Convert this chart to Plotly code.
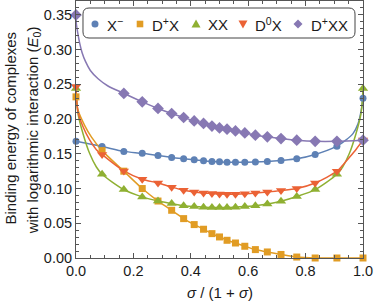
import plotly.graph_objects as go

# ---------------- data ----------------
sigma_ratio = [0.0, 0.0909, 0.1667, 0.2308, 0.2857, 0.3333, 0.375, 0.4118, 0.4444, 0.4737, 0.5,
               0.5263, 0.5556, 0.5882, 0.625, 0.6667, 0.7143, 0.7692, 0.8333, 0.9091, 1.0]

x_minus = [0.168, 0.1605, 0.1535, 0.1507, 0.1475, 0.1448, 0.143, 0.1415, 0.140, 0.139, 0.1385,
           0.138, 0.138, 0.138, 0.1382, 0.139, 0.1405, 0.1428, 0.149, 0.161, 0.230]
d_plus_x = [0.232, 0.1546, 0.125, 0.100, 0.082, 0.0687, 0.0567, 0.0481, 0.0414, 0.0351, 0.0303,
            0.0255, 0.0216, 0.0169, 0.0121, 0.0087, 0.0051, 0.0014, 0.0, 0.0, 0.0]
xx = [0.244, 0.1206, 0.0985, 0.088, 0.082, 0.0783, 0.0752, 0.074, 0.0732, 0.0728, 0.0726,
      0.0728, 0.0732, 0.074, 0.0752, 0.0778, 0.0817, 0.0885, 0.0985, 0.1206, 0.244]
d0_x = [0.247, 0.149, 0.1254, 0.1134, 0.108, 0.102, 0.0975, 0.0951, 0.0937, 0.0928, 0.092,
        0.0918, 0.0918, 0.0925, 0.0935, 0.095, 0.097, 0.100, 0.108, 0.125, 0.170]
sigma_ratio_dpxx = [0.0, 0.1667, 0.2308, 0.2857, 0.3333, 0.375, 0.4118, 0.4444, 0.4737, 0.5,
                    0.5263, 0.5556, 0.5882, 0.625, 0.6667, 0.7143, 0.7692, 0.8333, 0.9091, 1.0]
d_plus_xx = [0.35, 0.237, 0.2248, 0.2153, 0.208, 0.2023, 0.1974, 0.1937, 0.190, 0.1873,
             0.1855, 0.183, 0.180, 0.1768, 0.1744, 0.172, 0.1696, 0.168, 0.168, 0.1696]

# extra points of the fitted curves near the edges
x_minus_edge_x = [0.94, 0.965, 0.983, 0.994]
x_minus_edge_y = [0.1696, 0.179, 0.1937, 0.2128]
d_plus_x_edge_x = [0.007, 0.030, 0.054]
d_plus_x_edge_y = [0.213, 0.191, 0.174]
xx_left_x = [0.007, 0.0245, 0.048, 0.071]
xx_left_y = [0.208, 0.179, 0.150, 0.131]
xx_right_x = [0.929, 0.952, 0.9755, 0.993]
xx_right_y = [0.131, 0.150, 0.179, 0.208]
d0_left_x = [0.007, 0.0245, 0.048, 0.071]
d0_left_y = [0.210, 0.189, 0.1696, 0.156]
d0_right_x = [0.930, 0.953, 0.977]
d0_right_y = [0.134, 0.145, 0.157]
dpxx_left_x = [0.001, 0.007, 0.013, 0.021, 0.033, 0.05, 0.077, 0.11]
dpxx_left_y = [0.338, 0.322, 0.309, 0.296, 0.283, 0.270, 0.258, 0.248]

x_ticks = [0.0, 0.2, 0.4, 0.6, 0.8, 1.0]
x_tick_labels = ["0.0", "0.2", "0.4", "0.6", "0.8", "1.0"]
y_ticks = [0.0, 0.05, 0.10, 0.15, 0.20, 0.25, 0.30, 0.35]
y_tick_labels = ["0.00", "0.05", "0.10", "0.15", "0.20", "0.25", "0.30", "0.35"]

names = ["X<sup>−</sup>", "D<sup>+</sup>X", "XX", "D<sup>0</sup>X", "D<sup>+</sup>XX"]
colors = ["#5E81B5", "#E19C24", "#8FB032", "#EB6235", "#8778B3"]


def merged(px_, py_, ex, ey):
    pts = sorted(list(zip(px_, py_)) + list(zip(ex, ey)))
    return [p[0] for p in pts], [p[1] for p in pts]


curves = [
    merged(sigma_ratio, x_minus, x_minus_edge_x, x_minus_edge_y),
    merged(sigma_ratio, d_plus_x, d_plus_x_edge_x, d_plus_x_edge_y),
    merged(sigma_ratio, xx, xx_left_x + xx_right_x, xx_left_y + xx_right_y),
    merged(sigma_ratio, d0_x, d0_left_x + d0_right_x, d0_left_y + d0_right_y),
    merged(sigma_ratio_dpxx, d_plus_xx, dpxx_left_x, dpxx_left_y),
]
points = [(sigma_ratio, x_minus), (sigma_ratio, d_plus_x), (sigma_ratio, xx),
          (sigma_ratio, d0_x), (sigma_ratio_dpxx, d_plus_xx)]
symbols = ["circle", "square", "triangle-up", "triangle-down", "diamond"]
sizes = [7, 7, 9, 9, 9]

fig = go.Figure()
for (cx, cy), col in zip(curves, colors):
    fig.add_trace(go.Scatter(x=cx, y=cy, mode="lines", showlegend=False, hoverinfo="skip",
                             line=dict(color=col, width=1.5, shape="spline", smoothing=0.8),
                             cliponaxis=False))
for (mx, my), col, sym, sz, nm in zip(points, colors, symbols, sizes, names):
    fig.add_trace(go.Scatter(x=mx, y=my, mode="markers", name=nm, showlegend=False,
                             marker=dict(symbol=sym, size=sz, color=col, line=dict(width=0)),
                             cliponaxis=False))

frame = "#555555"
PL, PT, PW, PH = 76, 1, 287, 257


def pxx(p):
    return (p - PL) / PW


def pxy(p):
    return (PT + PH - p) / PH


fig.update_layout(
    width=374, height=301,
    margin=dict(l=PL, r=374 - PL - PW, t=PT, b=301 - PT - PH, autoexpand=False),
    plot_bgcolor="white", paper_bgcolor="white", showlegend=False,
    font=dict(family="Liberation Sans, Arial, sans-serif", size=15, color="#1a1a1a"),
)
axis_common = dict(ticks="inside", ticklen=5, tickcolor=frame, tickwidth=1, showline=True,
                   linecolor=frame, linewidth=1, mirror="allticks", showgrid=False,
                   zeroline=False, tickfont=dict(size=14.5), automargin=False)
fig.update_xaxes(range=[0, 1], tickmode="array", tickvals=x_ticks, ticktext=x_tick_labels,
                 minor=dict(tickmode="linear", tick0=0, dtick=0.05, ticks="inside", ticklen=3,
                            tickcolor=frame), **axis_common)
fig.update_yaxes(range=[0, 0.37], tickmode="array", tickvals=y_ticks, ticktext=y_tick_labels,
                 minor=dict(tickmode="linear", tick0=0, dtick=0.01, ticks="inside", ticklen=3,
                            tickcolor=frame), **axis_common)

# ---- legend (manual, inside the frame) ----
bx0, bx1, by0, by1, r = 83, 355, 8, 38, 6


def P(x, y):
    return f"{pxx(x):.5f},{pxy(y):.5f}"


box_path = (f"M {P(bx0 + r, by0)} L {P(bx1 - r, by0)} Q {P(bx1, by0)} {P(bx1, by0 + r)} "
            f"L {P(bx1, by1 - r)} Q {P(bx1, by1)} {P(bx1 - r, by1)} "
            f"L {P(bx0 + r, by1)} Q {P(bx0, by1)} {P(bx0, by1 - r)} "
            f"L {P(bx0, by0 + r)} Q {P(bx0, by0)} {P(bx0 + r, by0)} Z")
shapes = [dict(type="path", xref="paper", yref="paper", path=box_path,
               line=dict(color="#444444", width=1), fillcolor="rgba(255,255,255,0.9)",
               layer="above")]
ly = 24
mxs = [95, 140, 196, 243, 298]
txs = [105, 150, 205.5, 253, 309]
shapes.append(dict(type="circle", xref="paper", yref="paper", x0=pxx(mxs[0] - 3.5), x1=pxx(mxs[0] + 3.5),
                   y0=pxy(ly + 3.5), y1=pxy(ly - 3.5), fillcolor=colors[0], line=dict(width=0), layer="above"))
shapes.append(dict(type="rect", xref="paper", yref="paper", x0=pxx(mxs[1] - 3.3), x1=pxx(mxs[1] + 3.3),
                   y0=pxy(ly + 3.3), y1=pxy(ly - 3.3), fillcolor=colors[1], line=dict(width=0), layer="above"))
c = mxs[2]
shapes.append(dict(type="path", xref="paper", yref="paper",
                   path=f"M {P(c, ly - 4.5)} L {P(c + 4.5, ly + 3.5)} L {P(c - 4.5, ly + 3.5)} Z",
                   fillcolor=colors[2], line=dict(width=0), layer="above"))
c = mxs[3]
shapes.append(dict(type="path", xref="paper", yref="paper",
                   path=f"M {P(c, ly + 4.5)} L {P(c + 4.5, ly - 3.5)} L {P(c - 4.5, ly - 3.5)} Z",
                   fillcolor=colors[3], line=dict(width=0), layer="above"))
c = mxs[4]
shapes.append(dict(type="path", xref="paper", yref="paper",
                   path=f"M {P(c, ly - 4.5)} L {P(c + 4.5, ly)} L {P(c, ly + 4.5)} L {P(c - 4.5, ly)} Z",
                   fillcolor=colors[4], line=dict(width=0), layer="above"))
fig.update_layout(shapes=shapes)

annotations = []
for nm, tx in zip(names, txs):
    annotations.append(dict(text=nm, xref="paper", yref="paper", x=pxx(tx), y=pxy(ly),
                            xanchor="left", yanchor="middle", showarrow=False,
                            font=dict(size=15, color="#1a1a1a")))
annotations.append(dict(text="<i>σ</i> / (1 + <i>σ</i>)", xref="paper", yref="paper",
                        x=0.5, y=pxy(292), xanchor="center", yanchor="middle", showarrow=False,
                        font=dict(size=15)))
annotations.append(dict(text="Binding energy of complexes", xref="paper", yref="paper",
                        x=pxx(10), y=pxy(128.5), xanchor="center", yanchor="middle",
                        textangle=-90, showarrow=False, font=dict(size=15)))
annotations.append(dict(text="with logarithmic interaction (<i>E</i><sub>0</sub>)", xref="paper",
                        yref="paper", x=pxx(33.3), y=pxy(130), xanchor="center", yanchor="middle",
                        textangle=-90, showarrow=False, font=dict(size=15)))
fig.update_layout(annotations=annotations)

fig.write_html("out.html", config={"displayModeBar": False},
               post_script="document.body.style.margin='0';document.body.style.overflow='hidden';")
